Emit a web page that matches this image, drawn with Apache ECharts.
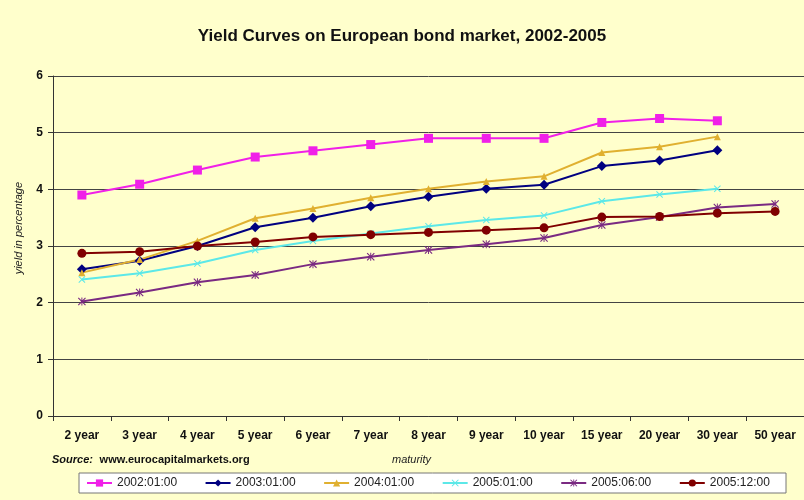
<!DOCTYPE html>
<html lang="en">
<head>
    <meta charset="UTF-8">
    <title>Yield Curves</title>
    <script src="https://cdn.jsdelivr.net/npm/echarts@6/dist/echarts.min.js"></script>
    <style>
        html, body { margin: 0; padding: 0; background: #FFFFCC; }
        #chart-container { width: 804px; height: 500px; }
    </style>
</head>
<body>
    <div id="chart-container"></div>
    <script>
        // maturities on the x axis
        var maturities = ['2 year', '3 year', '4 year', '5 year', '6 year', '7 year', '8 year',
                          '9 year', '10 year', '15 year', '20 year', '30 year', '50 year'];

        var seriesNames = ['2002:01:00', '2003:01:00', '2004:01:00', '2005:01:00', '2005:06:00', '2005:12:00'];

        // yields (null = no point)
        var y2002_01 = [3.90, 4.09, 4.34, 4.57, 4.68, 4.79, 4.90, 4.90, 4.90, 5.18, 5.25, 5.21, null];
        var y2003_01 = [2.59, 2.74, 3.00, 3.33, 3.50, 3.70, 3.87, 4.01, 4.08, 4.41, 4.51, 4.69, null];
        var y2004_01 = [2.53, 2.76, 3.09, 3.49, 3.66, 3.85, 4.01, 4.14, 4.23, 4.65, 4.75, 4.93, null];
        var y2005_01 = [2.41, 2.52, 2.69, 2.93, 3.09, 3.22, 3.35, 3.46, 3.54, 3.79, 3.91, 4.01, null];
        var y2005_06 = [2.02, 2.18, 2.36, 2.49, 2.68, 2.81, 2.93, 3.03, 3.14, 3.37, 3.51, 3.68, 3.74];
        var y2005_12 = [2.87, 2.90, 3.00, 3.07, 3.16, 3.20, 3.24, 3.28, 3.32, 3.51, 3.52, 3.58, 3.61];

        var yTicks = [0, 1, 2, 3, 4, 5, 6];

        // excel-like marker shapes
        var xMark = 'path://M0,1L1,0L5,4L9,0L10,1L6,5L10,9L9,10L5,6L1,10L0,9L4,5Z';
        var starMark = 'path://M0,1L1,0L5,4L9,0L10,1L6,5L10,9L9,10L5,6L1,10L0,9L4,5Z M4.4,0L5.6,0L5.6,10L4.4,10Z';

        var chart = echarts.init(document.getElementById('chart-container'));

        function makeLine(name, data, color, symbol, size) {
            return {
                name: name,
                type: 'line',
                data: data,
                symbol: symbol,
                symbolSize: size,
                showSymbol: true,
                connectNulls: false,
                lineStyle: { color: color, width: 2 },
                itemStyle: { color: color },
                emphasis: { disabled: true }
            };
        }

        var option = {
            backgroundColor: '#FFFFCC',
            animation: false,
            title: {
                text: 'Yield Curves on European bond market, 2002-2005',
                left: 'center',
                top: 23,
                textStyle: { fontFamily: 'Liberation Sans, Arial', fontSize: 17, fontWeight: 'bold', color: '#111' }
            },
            legend: {
                data: seriesNames,
                left: 86,
                top: 477,
                itemWidth: 25,
                itemHeight: 9,
                itemGap: 27.5,
                padding: 0,
                textStyle: { fontFamily: 'Liberation Sans, Arial', fontSize: 12, color: '#222' }
            },
            grid: { left: 53, top: 76, width: 754, height: 340 },
            xAxis: {
                type: 'category',
                data: maturities,
                boundaryGap: true,
                axisLine: { lineStyle: { color: '#333', width: 1 } },
                axisTick: { show: true, interval: 0, length: 5, lineStyle: { color: '#333' } },
                axisLabel: { interval: 0, margin: 14, fontFamily: 'Liberation Sans, Arial', fontSize: 12, fontWeight: 'bold', color: '#111' }
            },
            yAxis: {
                type: 'value',
                min: yTicks[0],
                max: yTicks[yTicks.length - 1],
                interval: 1,
                axisLine: { show: true, lineStyle: { color: '#333', width: 1 } },
                axisTick: { show: true, length: 5, lineStyle: { color: '#333' } },
                axisLabel: { margin: 10, fontFamily: 'Liberation Sans, Arial', fontSize: 12, fontWeight: 'bold', color: '#111' },
                splitLine: { show: true, lineStyle: { color: '#444', width: 1 } }
            },
            graphic: [
                {
                    // legend box
                    type: 'rect',
                    z: 0,
                    shape: { x: 79, y: 473, width: 707, height: 20 },
                    style: { fill: '#FFFFFF', stroke: '#777', lineWidth: 1 }
                },
                {
                    type: 'text',
                    left: 13,
                    top: 182,
                    rotation: Math.PI / 2,
                    style: {
                        text: 'yield in percentage',
                        font: 'italic 11px "Liberation Sans", Arial',
                        fill: '#222'
                    }
                },
                {
                    type: 'text',
                    left: 52,
                    top: 454,
                    style: {
                        text: '{a|Source:}  {b|www.eurocapitalmarkets.org}',
                        rich: {
                            a: { font: 'italic bold 11px "Liberation Sans", Arial', fill: '#111' },
                            b: { font: 'bold 11px "Liberation Sans", Arial', fill: '#111' }
                        }
                    }
                },
                {
                    type: 'text',
                    left: 392,
                    top: 454,
                    style: {
                        text: 'maturity',
                        font: 'italic 11px "Liberation Sans", Arial',
                        fill: '#222'
                    }
                }
            ],
            series: [
                makeLine(seriesNames[0], y2002_01, '#F020E8', 'rect', 9),
                makeLine(seriesNames[1], y2003_01, '#000080', 'diamond', 10),
                makeLine(seriesNames[2], y2004_01, '#E0B030', 'triangle', 7),
                makeLine(seriesNames[3], y2005_01, '#5CE8E8', xMark, 7),
                makeLine(seriesNames[4], y2005_06, '#7A2A82', starMark, 8),
                makeLine(seriesNames[5], y2005_12, '#800000', 'circle', 9)
            ]
        };

        chart.setOption(option);
    </script>
</body>
</html>
